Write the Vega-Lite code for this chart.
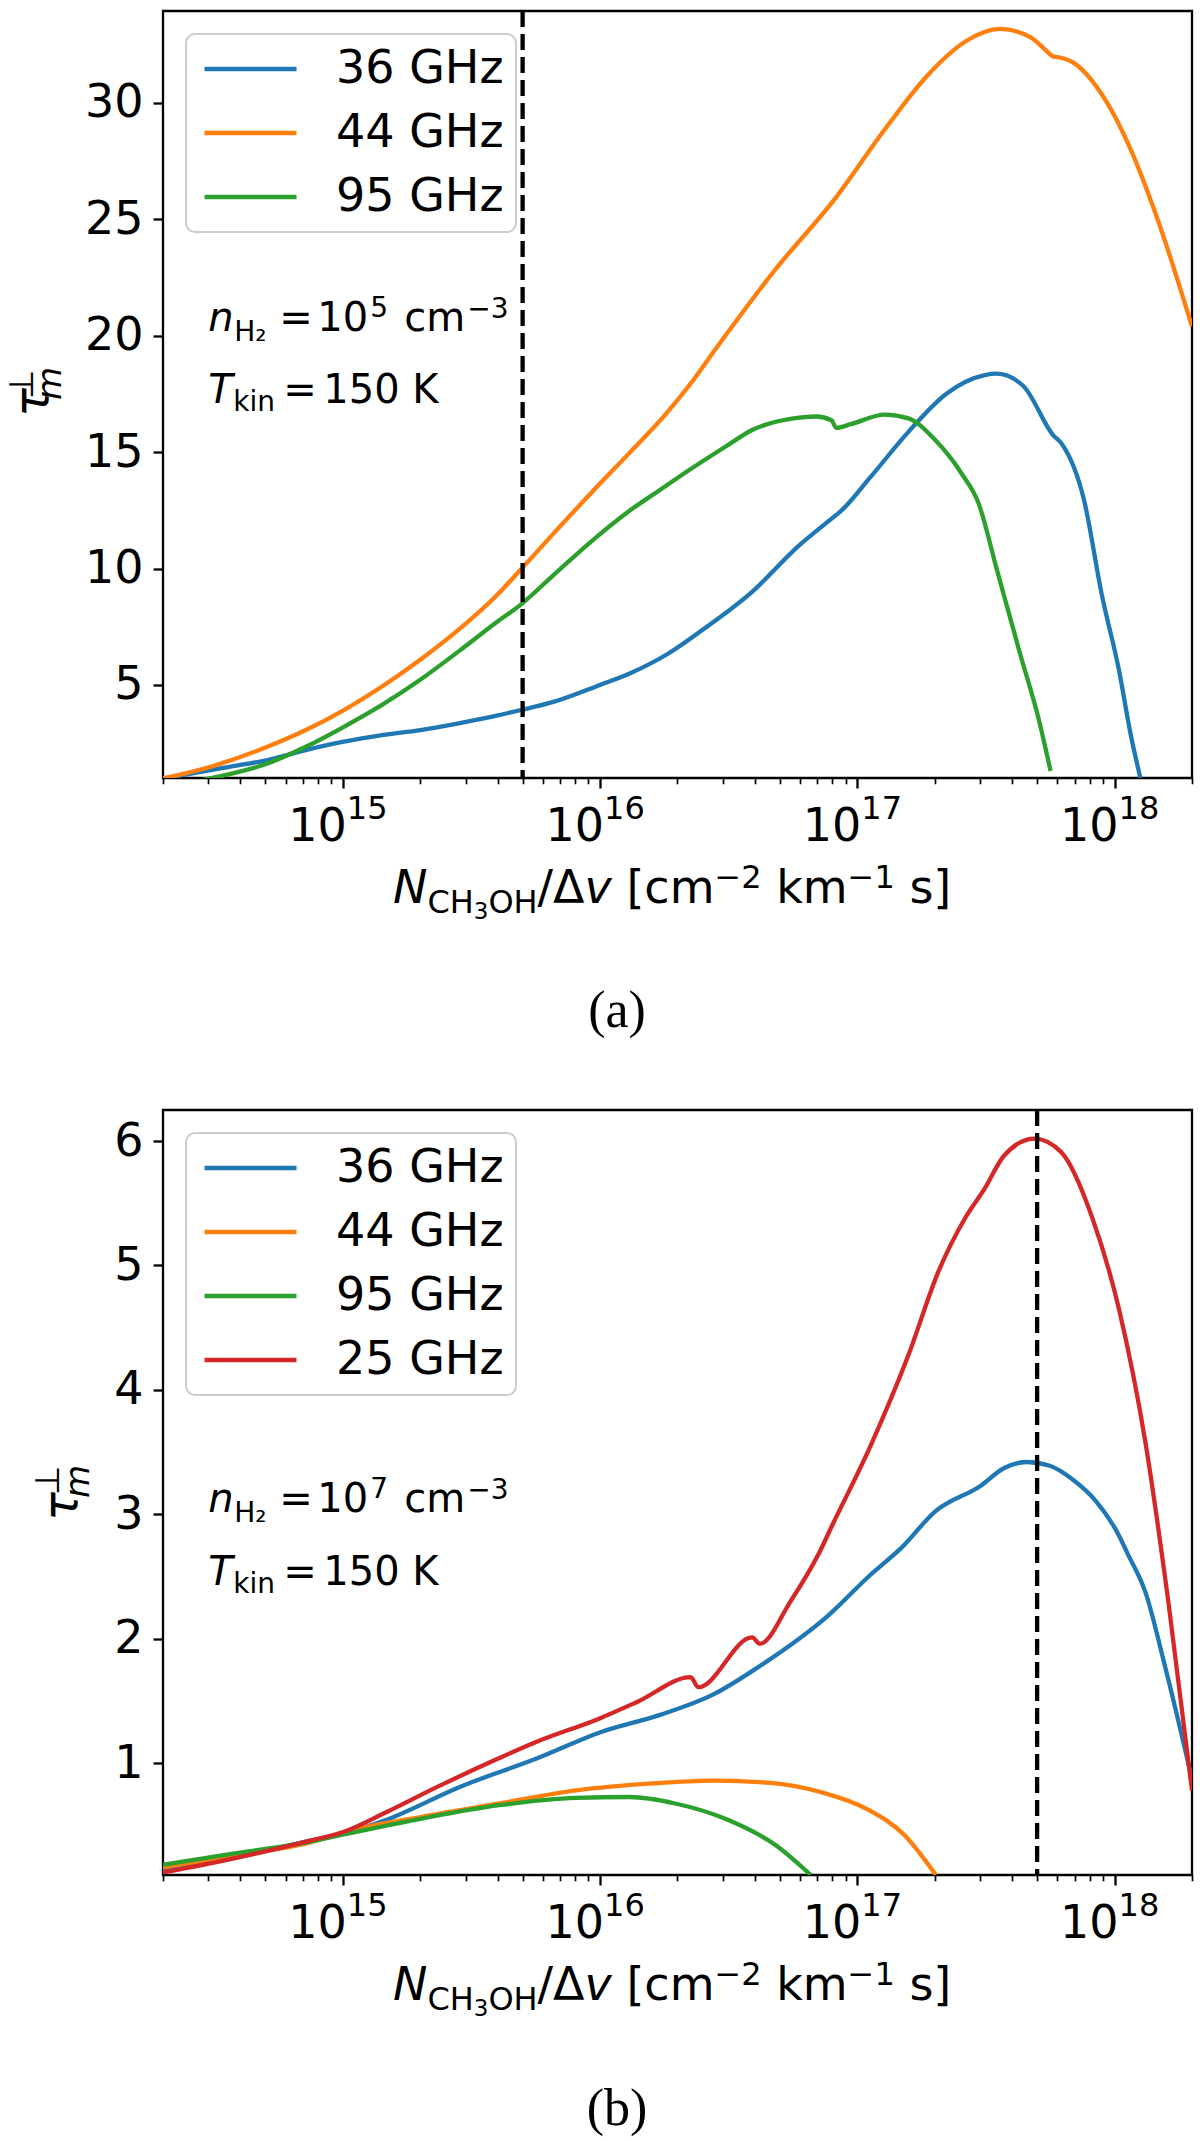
{
"$schema": "https://vega.github.io/schema/vega-lite/v6.json",
"background": "white",
"padding": {"left": 4, "top": 7, "right": 5, "bottom": 5},
"datasets": {
"a": [
{"freq":"36 GHz","N":2.0e14,"tau":0.97},{"freq":"36 GHz","N":2.57e14,"tau":1.19},{"freq":"36 GHz","N":3.62e14,"tau":1.48},{"freq":"36 GHz","N":5.09e14,"tau":1.77},{"freq":"36 GHz","N":7.18e14,"tau":2.2},{"freq":"36 GHz","N":1.01e15,"tau":2.56},{"freq":"36 GHz","N":1.42e15,"tau":2.84},{"freq":"36 GHz","N":2.0e15,"tau":3.06},{"freq":"36 GHz","N":2.82e15,"tau":3.35},{"freq":"36 GHz","N":3.97e15,"tau":3.68},{"freq":"36 GHz","N":4.92e15,"tau":3.92},{"freq":"36 GHz","N":6.64e15,"tau":4.28},{"freq":"36 GHz","N":1.0e16,"tau":5.0},{"freq":"36 GHz","N":1.31e16,"tau":5.5},{"freq":"36 GHz","N":1.85e16,"tau":6.36},{"freq":"36 GHz","N":2.61e16,"tau":7.51},{"freq":"36 GHz","N":3.9e16,"tau":9.0},{"freq":"36 GHz","N":5.87e16,"tau":10.94},{"freq":"36 GHz","N":8.28e16,"tau":12.3},{"freq":"36 GHz","N":8.6e16,"tau":12.45},{"freq":"36 GHz","N":1.12e17,"tau":13.9},{"freq":"36 GHz","N":1.58e17,"tau":15.87},{"freq":"36 GHz","N":2.22e17,"tau":17.51},{"freq":"36 GHz","N":3.13e17,"tau":18.31},{"freq":"36 GHz","N":3.47e17,"tau":18.37},{"freq":"36 GHz","N":4.41e17,"tau":17.85},{"freq":"36 GHz","N":5.79e17,"tau":15.71},{"freq":"36 GHz","N":6.21e17,"tau":15.38},{"freq":"36 GHz","N":7.62e17,"tau":12.91},{"freq":"36 GHz","N":8.91e17,"tau":8.9},{"freq":"36 GHz","N":1.04e18,"tau":5.64},{"freq":"36 GHz","N":1.16e18,"tau":2.77},{"freq":"36 GHz","N":1.26e18,"tau":1.0},
{"freq":"44 GHz","N":2.0e14,"tau":0.98},{"freq":"44 GHz","N":3.05e14,"tau":1.48},{"freq":"44 GHz","N":5.09e14,"tau":2.34},{"freq":"44 GHz","N":7.18e14,"tau":3.06},{"freq":"44 GHz","N":1.01e15,"tau":3.92},{"freq":"44 GHz","N":1.42e15,"tau":4.93},{"freq":"44 GHz","N":2.0e15,"tau":6.08},{"freq":"44 GHz","N":2.82e15,"tau":7.37},{"freq":"44 GHz","N":3.97e15,"tau":8.85},{"freq":"44 GHz","N":4.92e15,"tau":9.96},{"freq":"44 GHz","N":6.64e15,"tau":11.54},{"freq":"44 GHz","N":9.33e15,"tau":13.3},{"freq":"44 GHz","N":1.31e16,"tau":15.0},{"freq":"44 GHz","N":1.79e16,"tau":16.6},{"freq":"44 GHz","N":2.27e16,"tau":18.0},{"freq":"44 GHz","N":2.84e16,"tau":19.49},{"freq":"44 GHz","N":4.75e16,"tau":22.78},{"freq":"44 GHz","N":8.22e16,"tau":25.91},{"freq":"44 GHz","N":1.28e17,"tau":28.87},{"freq":"44 GHz","N":1.87e17,"tau":31.17},{"freq":"44 GHz","N":2.64e17,"tau":32.65},{"freq":"44 GHz","N":3.59e17,"tau":33.18},{"freq":"44 GHz","N":4.72e17,"tau":32.82},{"freq":"44 GHz","N":5.41e17,"tau":32.26},{"freq":"44 GHz","N":5.79e17,"tau":31.99},{"freq":"44 GHz","N":6.1e17,"tau":31.96},{"freq":"44 GHz","N":6.87e17,"tau":31.75},{"freq":"44 GHz","N":8.73e17,"tau":30.52},{"freq":"44 GHz","N":1.15e18,"tau":28.05},{"freq":"44 GHz","N":1.46e18,"tau":25.09},{"freq":"44 GHz","N":2.0e18,"tau":20.4},
{"freq":"95 GHz","N":2.0e14,"tau":0.62},{"freq":"95 GHz","N":3.05e14,"tau":0.98},{"freq":"95 GHz","N":5.09e14,"tau":1.62},{"freq":"95 GHz","N":7.18e14,"tau":2.34},{"freq":"95 GHz","N":1.01e15,"tau":3.2},{"freq":"95 GHz","N":1.42e15,"tau":4.14},{"freq":"95 GHz","N":2.0e15,"tau":5.22},{"freq":"95 GHz","N":2.82e15,"tau":6.44},{"freq":"95 GHz","N":3.97e15,"tau":7.7},{"freq":"95 GHz","N":4.92e15,"tau":8.45},{"freq":"95 GHz","N":6.64e15,"tau":9.75},{"freq":"95 GHz","N":9.33e15,"tau":11.2},{"freq":"95 GHz","N":1.31e16,"tau":12.5},{"freq":"95 GHz","N":1.67e16,"tau":13.3},{"freq":"95 GHz","N":2.2e16,"tau":14.2},{"freq":"95 GHz","N":3.09e16,"tau":15.25},{"freq":"95 GHz","N":3.9e16,"tau":15.95},{"freq":"95 GHz","N":5.65e16,"tau":16.45},{"freq":"95 GHz","N":6.93e16,"tau":16.53},{"freq":"95 GHz","N":7.94e16,"tau":16.37},{"freq":"95 GHz","N":8.28e16,"tau":16.04},{"freq":"95 GHz","N":9.44e16,"tau":16.2},{"freq":"95 GHz","N":1.28e17,"tau":16.61},{"freq":"95 GHz","N":1.58e17,"tau":16.45},{"freq":"95 GHz","N":2.0e17,"tau":15.54},{"freq":"95 GHz","N":2.55e17,"tau":14.06},{"freq":"95 GHz","N":2.96e17,"tau":12.8},{"freq":"95 GHz","N":3.49e17,"tau":9.94},{"freq":"95 GHz","N":4.29e17,"tau":6.35},{"freq":"95 GHz","N":5.08e17,"tau":3.49},{"freq":"95 GHz","N":5.64e17,"tau":1.3}
],
"b": [
{"freq":"36 GHz","N":2.0e14,"tau":0.146},{"freq":"36 GHz","N":3.7e14,"tau":0.237},{"freq":"36 GHz","N":7.33e14,"tau":0.373},{"freq":"36 GHz","N":1.01e15,"tau":0.434},{"freq":"36 GHz","N":1.46e15,"tau":0.54},{"freq":"36 GHz","N":2.88e15,"tau":0.812},{"freq":"36 GHz","N":5.73e15,"tau":1.04},{"freq":"36 GHz","N":1.01e16,"tau":1.25},{"freq":"36 GHz","N":1.71e16,"tau":1.387},{"freq":"36 GHz","N":2.77e16,"tau":1.554},{"freq":"36 GHz","N":4.18e16,"tau":1.78},{"freq":"36 GHz","N":7.74e16,"tau":2.19},{"freq":"36 GHz","N":1.12e17,"tau":2.51},{"freq":"36 GHz","N":1.5e17,"tau":2.74},{"freq":"36 GHz","N":2.0e17,"tau":3.02},{"freq":"36 GHz","N":3.02e17,"tau":3.23},{"freq":"36 GHz","N":3.71e17,"tau":3.37},{"freq":"36 GHz","N":4.56e17,"tau":3.42},{"freq":"36 GHz","N":5.6e17,"tau":3.39},{"freq":"36 GHz","N":6.87e17,"tau":3.28},{"freq":"36 GHz","N":8.43e17,"tau":3.11},{"freq":"36 GHz","N":1.04e18,"tau":2.83},{"freq":"36 GHz","N":1.12e18,"tau":2.69},{"freq":"36 GHz","N":1.32e18,"tau":2.37},{"freq":"36 GHz","N":1.57e18,"tau":1.78},{"freq":"36 GHz","N":2.0e18,"tau":0.87},
{"freq":"44 GHz","N":2.0e14,"tau":0.162},{"freq":"44 GHz","N":3.7e14,"tau":0.252},{"freq":"44 GHz","N":7.33e14,"tau":0.358},{"freq":"44 GHz","N":1.03e15,"tau":0.448},{"freq":"44 GHz","N":2.05e15,"tau":0.57},{"freq":"44 GHz","N":4.06e15,"tau":0.675},{"freq":"44 GHz","N":8.07e15,"tau":0.78},{"freq":"44 GHz","N":1.6e16,"tau":0.836},{"freq":"44 GHz","N":2.77e16,"tau":0.858},{"freq":"44 GHz","N":4.47e16,"tau":0.843},{"freq":"44 GHz","N":7.23e16,"tau":0.766},{"freq":"44 GHz","N":1.09e17,"tau":0.63},{"freq":"44 GHz","N":1.53e17,"tau":0.418},{"freq":"44 GHz","N":2.02e17,"tau":0.1},
{"freq":"95 GHz","N":2.0e14,"tau":0.182},{"freq":"95 GHz","N":3.7e14,"tau":0.27},{"freq":"95 GHz","N":7.33e14,"tau":0.364},{"freq":"95 GHz","N":1.03e15,"tau":0.43},{"freq":"95 GHz","N":2.05e15,"tau":0.556},{"freq":"95 GHz","N":4.06e15,"tau":0.661},{"freq":"95 GHz","N":8.07e15,"tau":0.72},{"freq":"95 GHz","N":1.3e16,"tau":0.727},{"freq":"95 GHz","N":1.96e16,"tau":0.675},{"freq":"95 GHz","N":3.17e16,"tau":0.54},{"freq":"95 GHz","N":4.79e16,"tau":0.343},{"freq":"95 GHz","N":6.59e16,"tau":0.1},
{"freq":"25 GHz","N":2.0e14,"tau":0.12},{"freq":"25 GHz","N":3.7e14,"tau":0.23},{"freq":"25 GHz","N":7.33e14,"tau":0.373},{"freq":"25 GHz","N":1.01e15,"tau":0.448},{"freq":"25 GHz","N":1.46e15,"tau":0.6},{"freq":"25 GHz","N":2.35e15,"tau":0.812},{"freq":"25 GHz","N":4.06e15,"tau":1.04},{"freq":"25 GHz","N":5.73e15,"tau":1.175},{"freq":"25 GHz","N":9.91e15,"tau":1.357},{"freq":"25 GHz","N":1.4e16,"tau":1.493},{"freq":"25 GHz","N":2.25e16,"tau":1.69},{"freq":"25 GHz","N":2.41e16,"tau":1.61},{"freq":"25 GHz","N":3.9e16,"tau":2.01},{"freq":"25 GHz","N":4.18e16,"tau":1.96},{"freq":"25 GHz","N":5.5e16,"tau":2.3},{"freq":"25 GHz","N":7.11e16,"tau":2.69},{"freq":"25 GHz","N":7.94e16,"tau":2.9},{"freq":"25 GHz","N":1.12e17,"tau":3.54},{"freq":"25 GHz","N":1.58e17,"tau":4.28},{"freq":"25 GHz","N":2.07e17,"tau":4.955},{"freq":"25 GHz","N":2.64e17,"tau":5.39},{"freq":"25 GHz","N":3.13e17,"tau":5.62},{"freq":"25 GHz","N":3.71e17,"tau":5.88},{"freq":"25 GHz","N":4.88e17,"tau":6.02},{"freq":"25 GHz","N":6.21e17,"tau":5.91},{"freq":"25 GHz","N":8.17e17,"tau":5.39},{"freq":"25 GHz","N":1.04e18,"tau":4.65},{"freq":"25 GHz","N":1.32e18,"tau":3.57},{"freq":"25 GHz","N":1.62e18,"tau":2.29},{"freq":"25 GHz","N":2.0e18,"tau":0.78}
],
"decades": [{"N":1e15,"e":"15"},{"N":1e16,"e":"16"},{"N":1e17,"e":"17"},{"N":1e18,"e":"18"}]
},
"spacing": 332,
"bounds": "flush",
"resolve": {"scale": {"x": "independent", "y": "independent", "color": "independent"}},
"vconcat": [
{
"width": 1029, "height": 767,
"resolve": {"axis": {"x": "independent", "y": "independent"}},
"layer": [
{"data": {"name": "a"}, "mark": {"type": "line", "strokeWidth": 4.3, "clip": true, "interpolate": "monotone"},
 "encoding": {
  "x": {"field": "N", "type": "quantitative", "scale": {"type": "log", "domain": [2e14, 2e18], "nice": false}, "axis": {"orient": "bottom", "values": [1e15, 1e16, 1e17, 1e18], "labels": false, "tickSize": 10, "tickWidth": 2.3, "title": null}},
  "y": {"field": "tau", "type": "quantitative", "scale": {"domain": [1, 33.95], "zero": false, "nice": false}, "axis": {"orient": "left", "values": [5, 10, 15, 20, 25, 30], "tickSize": 10, "tickWidth": 2.3, "labelFontSize": 46, "labelPadding": 10, "labelFlush": false, "labelOverlap": false, "title": null}},
  "color": {"field": "freq", "type": "nominal", "scale": {"domain": ["36 GHz", "44 GHz", "95 GHz"], "range": ["#1f77b4", "#ff7f0e", "#2ca02c"]}, "legend": {"title": null}}
 }},
{"data": {"values": [{}]}, "mark": {"type": "rule", "strokeDash": [16, 7], "strokeWidth": 4.3, "color": "black"},
 "encoding": {"x": {"datum": 5e15, "type": "quantitative", "axis": {"orient": "bottom", "values": [2e14,3e14,4e14,5e14,6e14,7e14,8e14,9e14,2e15,3e15,4e15,5e15,6e15,7e15,8e15,9e15,2e16,3e16,4e16,5e16,6e16,7e16,8e16,9e16,2e17,3e17,4e17,5e17,6e17,7e17,8e17,9e17,2e18], "labels": false, "tickSize": 5.8, "tickWidth": 1.7, "title": null}}}},
{"data": {"name": "decades"}, "mark": {"type": "text", "text": "10", "fontSize": 46, "align": "right", "baseline": "alphabetic", "dx": 4, "dy": 63},
 "encoding": {"x": {"field": "N", "type": "quantitative", "axis": null}, "y": {"datum": 1, "type": "quantitative", "axis": null}}},
{"data": {"name": "decades"}, "mark": {"type": "text", "fontSize": 32, "align": "left", "baseline": "alphabetic", "dx": 4, "dy": 41},
 "encoding": {"x": {"field": "N", "type": "quantitative", "axis": null}, "y": {"datum": 1, "type": "quantitative", "axis": null}, "text": {"field": "e"}}},
{"data": {"values": [{}]}, "mark": {"type": "text", "text": "N", "fontSize": 46, "fontStyle": "italic", "align": "left", "baseline": "alphabetic", "dx": -284.5, "dy": 125}, "encoding": {"x": {"datum": 2e16, "type": "quantitative", "axis": null}, "y": {"datum": 1, "type": "quantitative", "axis": null}}},
{"data": {"values": [{}]}, "mark": {"type": "text", "text": "CH", "fontSize": 32, "align": "left", "baseline": "alphabetic", "dx": -250.1, "dy": 135}, "encoding": {"x": {"datum": 2e16, "type": "quantitative", "axis": null}, "y": {"datum": 1, "type": "quantitative", "axis": null}}},
{"data": {"values": [{}]}, "mark": {"type": "text", "text": "3", "fontSize": 23, "align": "left", "baseline": "alphabetic", "dx": -203.7, "dy": 141}, "encoding": {"x": {"datum": 2e16, "type": "quantitative", "axis": null}, "y": {"datum": 1, "type": "quantitative", "axis": null}}},
{"data": {"values": [{}]}, "mark": {"type": "text", "text": "OH", "fontSize": 32, "align": "left", "baseline": "alphabetic", "dx": -189.1, "dy": 135}, "encoding": {"x": {"datum": 2e16, "type": "quantitative", "axis": null}, "y": {"datum": 1, "type": "quantitative", "axis": null}}},
{"data": {"values": [{}]}, "mark": {"type": "text", "text": "/Δ", "fontSize": 46, "align": "left", "baseline": "alphabetic", "dx": -139.9, "dy": 125}, "encoding": {"x": {"datum": 2e16, "type": "quantitative", "axis": null}, "y": {"datum": 1, "type": "quantitative", "axis": null}}},
{"data": {"values": [{}]}, "mark": {"type": "text", "text": "v", "fontSize": 46, "fontStyle": "italic", "align": "left", "baseline": "alphabetic", "dx": -92.9, "dy": 125}, "encoding": {"x": {"datum": 2e16, "type": "quantitative", "axis": null}, "y": {"datum": 1, "type": "quantitative", "axis": null}}},
{"data": {"values": [{}]}, "mark": {"type": "text", "text": "[cm", "fontSize": 46, "align": "left", "baseline": "alphabetic", "dx": -51.1, "dy": 125}, "encoding": {"x": {"datum": 2e16, "type": "quantitative", "axis": null}, "y": {"datum": 1, "type": "quantitative", "axis": null}}},
{"data": {"values": [{}]}, "mark": {"type": "text", "text": "−2", "fontSize": 32, "align": "left", "baseline": "alphabetic", "dx": 36.9, "dy": 110}, "encoding": {"x": {"datum": 2e16, "type": "quantitative", "axis": null}, "y": {"datum": 1, "type": "quantitative", "axis": null}}},
{"data": {"values": [{}]}, "mark": {"type": "text", "text": "km", "fontSize": 46, "align": "left", "baseline": "alphabetic", "dx": 98.7, "dy": 125}, "encoding": {"x": {"datum": 2e16, "type": "quantitative", "axis": null}, "y": {"datum": 1, "type": "quantitative", "axis": null}}},
{"data": {"values": [{}]}, "mark": {"type": "text", "text": "−1", "fontSize": 32, "align": "left", "baseline": "alphabetic", "dx": 170.1, "dy": 110}, "encoding": {"x": {"datum": 2e16, "type": "quantitative", "axis": null}, "y": {"datum": 1, "type": "quantitative", "axis": null}}},
{"data": {"values": [{}]}, "mark": {"type": "text", "text": "s]", "fontSize": 46, "align": "left", "baseline": "alphabetic", "dx": 231.9, "dy": 125}, "encoding": {"x": {"datum": 2e16, "type": "quantitative", "axis": null}, "y": {"datum": 1, "type": "quantitative", "axis": null}}},
{"data": {"values": [{}]}, "mark": {"type": "text", "text": "τ", "fontSize": 48, "fontStyle": "italic", "angle": 270, "align": "center", "baseline": "alphabetic", "dx": -8, "dy": -115}, "encoding": {"x": {"datum": 2e14, "type": "quantitative", "axis": null}, "y": {"datum": 17.475, "type": "quantitative", "axis": null}}},
{"data": {"values": [{}]}, "mark": {"type": "text", "text": "m", "fontSize": 34, "fontStyle": "italic", "angle": 270, "align": "center", "baseline": "alphabetic", "dx": 11, "dy": -102}, "encoding": {"x": {"datum": 2e14, "type": "quantitative", "axis": null}, "y": {"datum": 17.475, "type": "quantitative", "axis": null}}},
{"data": {"values": [{}]}, "mark": {"type": "text", "text": "⊥", "fontSize": 34, "angle": 270, "align": "center", "baseline": "alphabetic", "dx": 10, "dy": -130}, "encoding": {"x": {"datum": 2e14, "type": "quantitative", "axis": null}, "y": {"datum": 17.475, "type": "quantitative", "axis": null}}},
{"data": {"values": [{}]}, "mark": {"type": "text", "text": "n", "fontSize": 40, "fontStyle": "italic", "align": "left", "baseline": "alphabetic", "dx": 0}, "encoding": {"x": {"datum": 3e14, "type": "quantitative", "axis": null}, "y": {"datum": 20.2, "type": "quantitative", "axis": null}}},
{"data": {"values": [{}]}, "mark": {"type": "text", "text": "H₂", "fontSize": 28, "align": "left", "baseline": "alphabetic", "dx": 26, "dy": 10}, "encoding": {"x": {"datum": 3e14, "type": "quantitative", "axis": null}, "y": {"datum": 20.2, "type": "quantitative", "axis": null}}},
{"data": {"values": [{}]}, "mark": {"type": "text", "text": "=", "fontSize": 40, "align": "left", "baseline": "alphabetic", "dx": 71}, "encoding": {"x": {"datum": 3e14, "type": "quantitative", "axis": null}, "y": {"datum": 20.2, "type": "quantitative", "axis": null}}},
{"data": {"values": [{}]}, "mark": {"type": "text", "text": "10", "fontSize": 40, "align": "left", "baseline": "alphabetic", "dx": 109}, "encoding": {"x": {"datum": 3e14, "type": "quantitative", "axis": null}, "y": {"datum": 20.2, "type": "quantitative", "axis": null}}},
{"data": {"values": [{}]}, "mark": {"type": "text", "text": "5", "fontSize": 28, "align": "left", "baseline": "alphabetic", "dx": 162, "dy": -14}, "encoding": {"x": {"datum": 3e14, "type": "quantitative", "axis": null}, "y": {"datum": 20.2, "type": "quantitative", "axis": null}}},
{"data": {"values": [{}]}, "mark": {"type": "text", "text": "cm", "fontSize": 40, "align": "left", "baseline": "alphabetic", "dx": 196}, "encoding": {"x": {"datum": 3e14, "type": "quantitative", "axis": null}, "y": {"datum": 20.2, "type": "quantitative", "axis": null}}},
{"data": {"values": [{}]}, "mark": {"type": "text", "text": "−3", "fontSize": 28, "align": "left", "baseline": "alphabetic", "dx": 259, "dy": -13}, "encoding": {"x": {"datum": 3e14, "type": "quantitative", "axis": null}, "y": {"datum": 20.2, "type": "quantitative", "axis": null}}},
{"data": {"values": [{}]}, "mark": {"type": "text", "text": "T", "fontSize": 40, "fontStyle": "italic", "align": "left", "baseline": "alphabetic", "dx": 0}, "encoding": {"x": {"datum": 3e14, "type": "quantitative", "axis": null}, "y": {"datum": 17.13, "type": "quantitative", "axis": null}}},
{"data": {"values": [{}]}, "mark": {"type": "text", "text": "kin", "fontSize": 28, "align": "left", "baseline": "alphabetic", "dx": 25, "dy": 8}, "encoding": {"x": {"datum": 3e14, "type": "quantitative", "axis": null}, "y": {"datum": 17.13, "type": "quantitative", "axis": null}}},
{"data": {"values": [{}]}, "mark": {"type": "text", "text": "=", "fontSize": 40, "align": "left", "baseline": "alphabetic", "dx": 75}, "encoding": {"x": {"datum": 3e14, "type": "quantitative", "axis": null}, "y": {"datum": 17.13, "type": "quantitative", "axis": null}}},
{"data": {"values": [{}]}, "mark": {"type": "text", "text": "150 K", "fontSize": 40, "align": "left", "baseline": "alphabetic", "dx": 115}, "encoding": {"x": {"datum": 3e14, "type": "quantitative", "axis": null}, "y": {"datum": 17.13, "type": "quantitative", "axis": null}}},
{"data": {"values": [{}]}, "mark": {"type": "text", "text": "(a)", "font": "Liberation Serif", "fontSize": 52, "align": "center", "baseline": "alphabetic", "dx": -60.5, "dy": 249}, "encoding": {"x": {"datum": 2e16, "type": "quantitative", "axis": null}, "y": {"datum": 1, "type": "quantitative", "axis": null}}}
]
},
{
"width": 1029, "height": 765,
"resolve": {"axis": {"x": "independent", "y": "independent"}},
"layer": [
{"data": {"name": "b"}, "mark": {"type": "line", "strokeWidth": 4.3, "clip": true, "interpolate": "monotone"},
 "encoding": {
  "x": {"field": "N", "type": "quantitative", "scale": {"type": "log", "domain": [2e14, 2e18], "nice": false}, "axis": {"orient": "bottom", "values": [1e15, 1e16, 1e17, 1e18], "labels": false, "tickSize": 10, "tickWidth": 2.3, "title": null}},
  "y": {"field": "tau", "type": "quantitative", "scale": {"domain": [0.1, 6.25], "zero": false, "nice": false}, "axis": {"orient": "left", "values": [1, 2, 3, 4, 5, 6], "tickSize": 10, "tickWidth": 2.3, "labelFontSize": 46, "labelPadding": 10, "labelFlush": false, "labelOverlap": false, "title": null}},
  "color": {"field": "freq", "type": "nominal", "scale": {"domain": ["36 GHz", "44 GHz", "95 GHz", "25 GHz"], "range": ["#1f77b4", "#ff7f0e", "#2ca02c", "#d62728"]}, "legend": {"title": null}}
 }},
{"data": {"values": [{}]}, "mark": {"type": "rule", "strokeDash": [16, 7], "strokeWidth": 4.3, "color": "black"},
 "encoding": {"x": {"datum": 5e17, "type": "quantitative", "axis": {"orient": "bottom", "values": [2e14,3e14,4e14,5e14,6e14,7e14,8e14,9e14,2e15,3e15,4e15,5e15,6e15,7e15,8e15,9e15,2e16,3e16,4e16,5e16,6e16,7e16,8e16,9e16,2e17,3e17,4e17,5e17,6e17,7e17,8e17,9e17,2e18], "labels": false, "tickSize": 5.8, "tickWidth": 1.7, "title": null}}}},
{"data": {"name": "decades"}, "mark": {"type": "text", "text": "10", "fontSize": 46, "align": "right", "baseline": "alphabetic", "dx": 4, "dy": 63},
 "encoding": {"x": {"field": "N", "type": "quantitative", "axis": null}, "y": {"datum": 0.1, "type": "quantitative", "axis": null}}},
{"data": {"name": "decades"}, "mark": {"type": "text", "fontSize": 32, "align": "left", "baseline": "alphabetic", "dx": 4, "dy": 41},
 "encoding": {"x": {"field": "N", "type": "quantitative", "axis": null}, "y": {"datum": 0.1, "type": "quantitative", "axis": null}, "text": {"field": "e"}}},
{"data": {"values": [{}]}, "mark": {"type": "text", "text": "N", "fontSize": 46, "fontStyle": "italic", "align": "left", "baseline": "alphabetic", "dx": -284.5, "dy": 125}, "encoding": {"x": {"datum": 2e16, "type": "quantitative", "axis": null}, "y": {"datum": 0.1, "type": "quantitative", "axis": null}}},
{"data": {"values": [{}]}, "mark": {"type": "text", "text": "CH", "fontSize": 32, "align": "left", "baseline": "alphabetic", "dx": -250.1, "dy": 135}, "encoding": {"x": {"datum": 2e16, "type": "quantitative", "axis": null}, "y": {"datum": 0.1, "type": "quantitative", "axis": null}}},
{"data": {"values": [{}]}, "mark": {"type": "text", "text": "3", "fontSize": 23, "align": "left", "baseline": "alphabetic", "dx": -203.7, "dy": 141}, "encoding": {"x": {"datum": 2e16, "type": "quantitative", "axis": null}, "y": {"datum": 0.1, "type": "quantitative", "axis": null}}},
{"data": {"values": [{}]}, "mark": {"type": "text", "text": "OH", "fontSize": 32, "align": "left", "baseline": "alphabetic", "dx": -189.1, "dy": 135}, "encoding": {"x": {"datum": 2e16, "type": "quantitative", "axis": null}, "y": {"datum": 0.1, "type": "quantitative", "axis": null}}},
{"data": {"values": [{}]}, "mark": {"type": "text", "text": "/Δ", "fontSize": 46, "align": "left", "baseline": "alphabetic", "dx": -139.9, "dy": 125}, "encoding": {"x": {"datum": 2e16, "type": "quantitative", "axis": null}, "y": {"datum": 0.1, "type": "quantitative", "axis": null}}},
{"data": {"values": [{}]}, "mark": {"type": "text", "text": "v", "fontSize": 46, "fontStyle": "italic", "align": "left", "baseline": "alphabetic", "dx": -92.9, "dy": 125}, "encoding": {"x": {"datum": 2e16, "type": "quantitative", "axis": null}, "y": {"datum": 0.1, "type": "quantitative", "axis": null}}},
{"data": {"values": [{}]}, "mark": {"type": "text", "text": "[cm", "fontSize": 46, "align": "left", "baseline": "alphabetic", "dx": -51.1, "dy": 125}, "encoding": {"x": {"datum": 2e16, "type": "quantitative", "axis": null}, "y": {"datum": 0.1, "type": "quantitative", "axis": null}}},
{"data": {"values": [{}]}, "mark": {"type": "text", "text": "−2", "fontSize": 32, "align": "left", "baseline": "alphabetic", "dx": 36.9, "dy": 110}, "encoding": {"x": {"datum": 2e16, "type": "quantitative", "axis": null}, "y": {"datum": 0.1, "type": "quantitative", "axis": null}}},
{"data": {"values": [{}]}, "mark": {"type": "text", "text": "km", "fontSize": 46, "align": "left", "baseline": "alphabetic", "dx": 98.7, "dy": 125}, "encoding": {"x": {"datum": 2e16, "type": "quantitative", "axis": null}, "y": {"datum": 0.1, "type": "quantitative", "axis": null}}},
{"data": {"values": [{}]}, "mark": {"type": "text", "text": "−1", "fontSize": 32, "align": "left", "baseline": "alphabetic", "dx": 170.1, "dy": 110}, "encoding": {"x": {"datum": 2e16, "type": "quantitative", "axis": null}, "y": {"datum": 0.1, "type": "quantitative", "axis": null}}},
{"data": {"values": [{}]}, "mark": {"type": "text", "text": "s]", "fontSize": 46, "align": "left", "baseline": "alphabetic", "dx": 231.9, "dy": 125}, "encoding": {"x": {"datum": 2e16, "type": "quantitative", "axis": null}, "y": {"datum": 0.1, "type": "quantitative", "axis": null}}},
{"data": {"values": [{}]}, "mark": {"type": "text", "text": "τ", "fontSize": 48, "fontStyle": "italic", "angle": 270, "align": "center", "baseline": "alphabetic", "dx": -14, "dy": -86}, "encoding": {"x": {"datum": 2e14, "type": "quantitative", "axis": null}, "y": {"datum": 3.175, "type": "quantitative", "axis": null}}},
{"data": {"values": [{}]}, "mark": {"type": "text", "text": "m", "fontSize": 34, "fontStyle": "italic", "angle": 270, "align": "center", "baseline": "alphabetic", "dx": 11, "dy": -74}, "encoding": {"x": {"datum": 2e14, "type": "quantitative", "axis": null}, "y": {"datum": 3.175, "type": "quantitative", "axis": null}}},
{"data": {"values": [{}]}, "mark": {"type": "text", "text": "⊥", "fontSize": 34, "angle": 270, "align": "center", "baseline": "alphabetic", "dx": 12, "dy": -104}, "encoding": {"x": {"datum": 2e14, "type": "quantitative", "axis": null}, "y": {"datum": 3.175, "type": "quantitative", "axis": null}}},
{"data": {"values": [{}]}, "mark": {"type": "text", "text": "n", "fontSize": 40, "fontStyle": "italic", "align": "left", "baseline": "alphabetic", "dx": 0}, "encoding": {"x": {"datum": 3e14, "type": "quantitative", "axis": null}, "y": {"datum": 3.02, "type": "quantitative", "axis": null}}},
{"data": {"values": [{}]}, "mark": {"type": "text", "text": "H₂", "fontSize": 28, "align": "left", "baseline": "alphabetic", "dx": 26, "dy": 10}, "encoding": {"x": {"datum": 3e14, "type": "quantitative", "axis": null}, "y": {"datum": 3.02, "type": "quantitative", "axis": null}}},
{"data": {"values": [{}]}, "mark": {"type": "text", "text": "=", "fontSize": 40, "align": "left", "baseline": "alphabetic", "dx": 71}, "encoding": {"x": {"datum": 3e14, "type": "quantitative", "axis": null}, "y": {"datum": 3.02, "type": "quantitative", "axis": null}}},
{"data": {"values": [{}]}, "mark": {"type": "text", "text": "10", "fontSize": 40, "align": "left", "baseline": "alphabetic", "dx": 109}, "encoding": {"x": {"datum": 3e14, "type": "quantitative", "axis": null}, "y": {"datum": 3.02, "type": "quantitative", "axis": null}}},
{"data": {"values": [{}]}, "mark": {"type": "text", "text": "7", "fontSize": 28, "align": "left", "baseline": "alphabetic", "dx": 162, "dy": -14}, "encoding": {"x": {"datum": 3e14, "type": "quantitative", "axis": null}, "y": {"datum": 3.02, "type": "quantitative", "axis": null}}},
{"data": {"values": [{}]}, "mark": {"type": "text", "text": "cm", "fontSize": 40, "align": "left", "baseline": "alphabetic", "dx": 196}, "encoding": {"x": {"datum": 3e14, "type": "quantitative", "axis": null}, "y": {"datum": 3.02, "type": "quantitative", "axis": null}}},
{"data": {"values": [{}]}, "mark": {"type": "text", "text": "−3", "fontSize": 28, "align": "left", "baseline": "alphabetic", "dx": 259, "dy": -13}, "encoding": {"x": {"datum": 3e14, "type": "quantitative", "axis": null}, "y": {"datum": 3.02, "type": "quantitative", "axis": null}}},
{"data": {"values": [{}]}, "mark": {"type": "text", "text": "T", "fontSize": 40, "fontStyle": "italic", "align": "left", "baseline": "alphabetic", "dx": 0}, "encoding": {"x": {"datum": 3e14, "type": "quantitative", "axis": null}, "y": {"datum": 2.43, "type": "quantitative", "axis": null}}},
{"data": {"values": [{}]}, "mark": {"type": "text", "text": "kin", "fontSize": 28, "align": "left", "baseline": "alphabetic", "dx": 25, "dy": 8}, "encoding": {"x": {"datum": 3e14, "type": "quantitative", "axis": null}, "y": {"datum": 2.43, "type": "quantitative", "axis": null}}},
{"data": {"values": [{}]}, "mark": {"type": "text", "text": "=", "fontSize": 40, "align": "left", "baseline": "alphabetic", "dx": 75}, "encoding": {"x": {"datum": 3e14, "type": "quantitative", "axis": null}, "y": {"datum": 2.43, "type": "quantitative", "axis": null}}},
{"data": {"values": [{}]}, "mark": {"type": "text", "text": "150 K", "fontSize": 40, "align": "left", "baseline": "alphabetic", "dx": 115}, "encoding": {"x": {"datum": 3e14, "type": "quantitative", "axis": null}, "y": {"datum": 2.43, "type": "quantitative", "axis": null}}},
{"data": {"values": [{}]}, "mark": {"type": "text", "text": "(b)", "font": "Liberation Serif", "fontSize": 52, "align": "center", "baseline": "alphabetic", "dx": -60.5, "dy": 250}, "encoding": {"x": {"datum": 2e16, "type": "quantitative", "axis": null}, "y": {"datum": 0.1, "type": "quantitative", "axis": null}}}
]
}
],
"config": {
 "font": "DejaVu Sans",
 "view": {"stroke": "black", "strokeWidth": 2.3},
 "axis": {"domain": false, "grid": false, "tickColor": "black", "labelColor": "black", "labelFont": "DejaVu Sans"},
 "text": {"font": "DejaVu Sans", "color": "black"},
 "legend": {"orient": "top-left", "offset": 23, "padding": 12, "rowPadding": 18, "clipHeight": 46, "symbolOffset": 4, "labelFontSize": 46, "labelFont": "DejaVu Sans", "labelColor": "black", "labelOffset": 37, "labelLimit": 0, "symbolType": "stroke", "symbolSize": 8464, "symbolStrokeWidth": 4.3, "fillColor": "white", "strokeColor": "#cccccc", "strokeWidth": 2, "cornerRadius": 9}
}
}
